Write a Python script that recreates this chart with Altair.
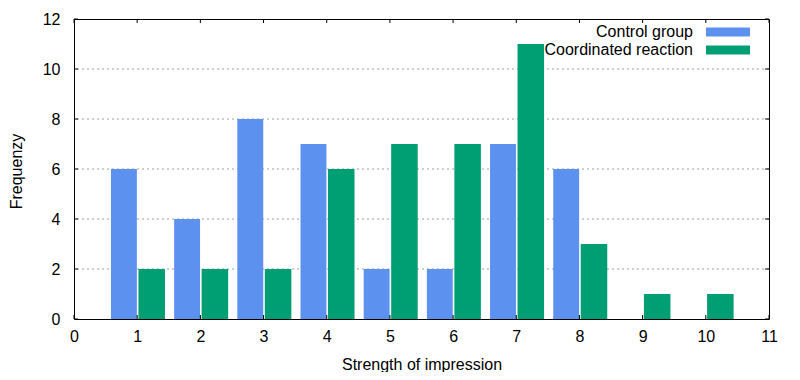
import altair as alt
import pandas as pd

scores = [1, 2, 3, 4, 5, 6, 7, 8, 9, 10]
control = [6, 4, 8, 7, 2, 2, 7, 6, 0, 0]
coordinated = [2, 2, 2, 6, 7, 7, 11, 3, 1, 1]
groups = ["Control group", "Coordinated reaction"]
colors = ["#5d91ef", "#009e73"]
x_ticks = list(range(0, 12))
y_ticks = list(range(0, 13, 2))
grid_vals = [2, 4, 6, 8, 10]

FONT = "Liberation Sans"

df = pd.DataFrame({
    "score": scores * 2,
    "count": control + coordinated,
    "group": [groups[0]] * len(scores) + [groups[1]] * len(scores),
})

xs = alt.Scale(domain=[0, 11], nice=False, zero=False)
ys = alt.Scale(domain=[0, 12], nice=False)

legend = alt.Legend(
    orient="none", legendX=601, legendY=4, title=None,
    symbolType="M2.444,-0.5H7.333V0.5H2.444Z", symbolSize=324,
    symbolStrokeWidth=0, symbolOpacity=1,
    labelAlign="right", labelOffset=0, labelFontSize=16, labelFont=FONT,
    labelColor="black", labelBaseline="middle", rowPadding=1, padding=0,
    labelLimit=0,
)

bars = alt.Chart(df).transform_calculate(
    x0="datum.score + (datum.group == 'Control group' ? -0.415 : 0.02)",
    x1="datum.score + (datum.group == 'Control group' ? -0.005 : 0.44)",
).mark_rect(strokeWidth=0).encode(
    x=alt.X("x0:Q", scale=xs, axis=alt.Axis(
        values=x_ticks, format="d", title="Strength of impression", grid=False,
        domain=False, ticks=False, tickSize=0, labelPadding=9, labelFontSize=16,
        labelFont=FONT, labelColor="black", titleFontSize=16, titleFont=FONT,
        titleFontWeight="normal", titleColor="black", titleY=50,
        titleBaseline="alphabetic", labelFlush=False,
    )),
    x2="x1:Q",
    y=alt.Y("count:Q", scale=ys, axis=alt.Axis(
        values=y_ticks, format="d", title="Frequenzy", grid=False, domain=False,
        ticks=False, tickSize=0, labelPadding=14, labelFontSize=16, labelFont=FONT,
        labelColor="black", titleFontSize=16, titleFont=FONT, titleFontWeight="normal",
        titleColor="black", titleAngle=270, titleX=-58, titleY=152, titleAlign="center",
        titleBaseline="middle", labelFlush=False,
    )),
    y2=alt.datum(0),
    color=alt.Color("group:N", scale=alt.Scale(domain=groups, range=colors), legend=legend),
)

grid = alt.Chart(pd.DataFrame({"g": grid_vals})).mark_rule(
    color="#a0a0a0", strokeWidth=1, strokeDash=[2, 3]
).encode(y=alt.Y("g:Q", scale=ys))

xt = pd.DataFrame({"t": x_ticks})
yt = pd.DataFrame({"t": y_ticks})
tick_x_bottom = alt.Chart(xt).mark_rule(color="black").encode(
    x=alt.X("t:Q", scale=xs), y=alt.datum(0), y2=alt.datum(0.16))
tick_x_top = alt.Chart(xt).mark_rule(color="black").encode(
    x=alt.X("t:Q", scale=xs), y=alt.datum(12), y2=alt.datum(11.84))
tick_y_left = alt.Chart(yt).mark_rule(color="black").encode(
    y=alt.Y("t:Q", scale=ys), x=alt.datum(0), x2=alt.datum(0.063))
tick_y_right = alt.Chart(yt).mark_rule(color="black").encode(
    y=alt.Y("t:Q", scale=ys), x=alt.datum(11), x2=alt.datum(10.937))

chart = alt.layer(
    grid, bars, tick_x_bottom, tick_x_top, tick_y_left, tick_y_right
).properties(
    width=695, height=300,
    autosize=alt.AutoSizeParams(type="none"),
    padding={"left": 66, "top": 11, "right": 23, "bottom": 53},
    background="white",
).configure_view(
    stroke="black", strokeWidth=1
)

chart.save("out.html", embed_options={"renderer": "svg", "actions": False})
